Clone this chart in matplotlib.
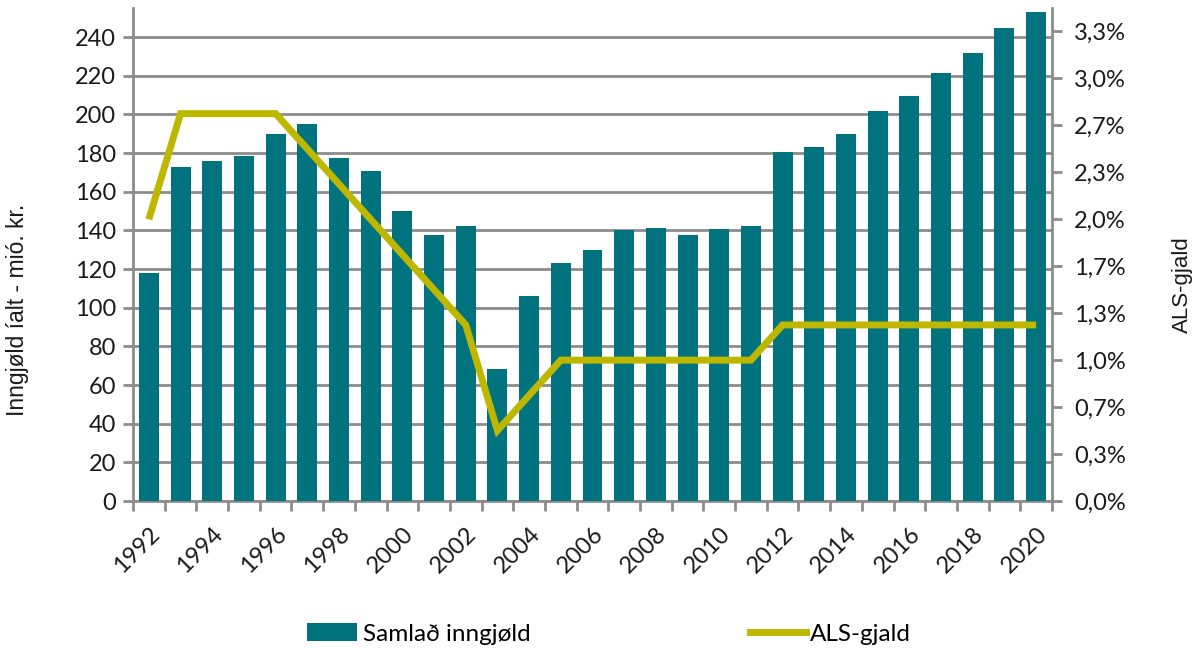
import matplotlib
matplotlib.use("Agg")
import matplotlib.pyplot as plt
import numpy as np
from matplotlib.ticker import FuncFormatter, FixedLocator
from matplotlib.patches import Patch
from matplotlib.lines import Line2D

years = list(range(1992, 2021))
inngjold = [118, 173, 176, 178.5, 190, 195, 177.5, 170.5, 150, 137.5, 142.5, 68.5,
            106, 123, 130, 140, 141, 137.5, 140.5, 142, 180.5, 183, 190, 201.5,
            209.5, 221.5, 231.5, 244.5, 253]
als_gjald = [2.0, 2.75, 2.75, 2.75, 2.75, 2.5, 2.25, 2.0, 1.75, 1.5, 1.25, 0.5,
             0.75, 1.0, 1.0, 1.0, 1.0, 1.0, 1.0, 1.0, 1.25, 1.25, 1.25, 1.25,
             1.25, 1.25, 1.25, 1.25, 1.25]
left_label = "Inngjøld íalt - mió. kr."
right_label = "ALS-gjald"
bar_name = "Samlað inngjøld"
line_name = "ALS-gjald"

bar_color = "#00737F"
line_color = "#BDB700"
grid_color = "#8C8C8C"
tick_font = "Lato"
tick_size = 17

W, H = 1202, 648
fig = plt.figure(figsize=(W/100, H/100), dpi=100)
ax = fig.add_axes([133/W, 1-501/H, (1052-133)/W, (501-8)/H])
x = np.arange(len(years))
bars = ax.bar(x, inngjold, width=0.63, color=bar_color, zorder=3, label=bar_name)
ax.set_xlim(-0.5, len(years)-0.5)
ax.set_ylim(0, 255)
ax.set_yticks(np.arange(0, 241, 20))
ax.yaxis.grid(True, color=grid_color, linewidth=2, zorder=0)
ax.set_axisbelow(True)
for s in ["top", "right"]:
    ax.spines[s].set_visible(False)
for s in ["left", "bottom"]:
    ax.spines[s].set_color(grid_color)
    ax.spines[s].set_linewidth(2)
ax.tick_params(axis="y", length=7, width=2, color=grid_color, labelsize=tick_size, pad=5)
ax.set_xticks(x[::2])
ax.set_xticklabels([str(y) for y in years[::2]], rotation=45, ha="right",
                   rotation_mode="anchor", fontsize=tick_size)
ax.tick_params(axis="x", which="major", length=0, pad=16)
ax.xaxis.set_minor_locator(FixedLocator(np.arange(-0.5, len(years), 1)))
ax.tick_params(axis="x", which="minor", length=7, width=2, color=grid_color)
for lbl in ax.get_xticklabels() + ax.get_yticklabels():
    lbl.set_fontfamily(tick_font)
    lbl.set_color("#1a1a1a")

ax2 = ax.twinx()
line, = ax2.plot(x, als_gjald, color=line_color, linewidth=5, zorder=4, label=line_name,
                 solid_capstyle="butt", solid_joinstyle="miter")
ax2.set_ylim(0, 3.5)
ax2.set_yticks(np.arange(0, 11) / 3.0)
ax2.yaxis.set_major_formatter(FuncFormatter(lambda v, p: f"{v:.1f}".replace(".", ",") + "%"))
for s in ["top", "left", "bottom"]:
    ax2.spines[s].set_visible(False)
ax2.spines["right"].set_color(grid_color)
ax2.spines["right"].set_linewidth(2)
ax2.tick_params(axis="y", length=7, width=2, color=grid_color, labelsize=tick_size, pad=9)
for lbl in ax2.get_yticklabels():
    lbl.set_fontfamily(tick_font)
    lbl.set_color("#1a1a1a")

fig.text(18/W, 1-310/H, left_label, rotation=90, ha="center", va="center",
         fontsize=16.5, family="Liberation Sans", color="#1a1a1a")
fig.text(1182/W, 1-285/H, right_label, rotation=90, ha="center", va="center",
         fontsize=16, family="Liberation Sans", color="#1a1a1a")

leg_prop = {"family": tick_font, "size": 17.5}
h1 = Patch(facecolor=bar_color)
h2 = Line2D([], [], color=line_color, linewidth=5)
l1 = fig.legend([h1], [bar_name], loc="center left", bbox_to_anchor=(307/W, 1-634/H),
                frameon=False, handlelength=2.05, handleheight=0.75, handletextpad=0.25,
                borderpad=0, borderaxespad=0, prop=leg_prop)
l2 = fig.legend([h2], [line_name], loc="center left", bbox_to_anchor=(750/W, 1-634/H),
                frameon=False, handlelength=2.3, handletextpad=0.15,
                borderpad=0, borderaxespad=0, prop=leg_prop)
fig.savefig("out.png", dpi=100)
